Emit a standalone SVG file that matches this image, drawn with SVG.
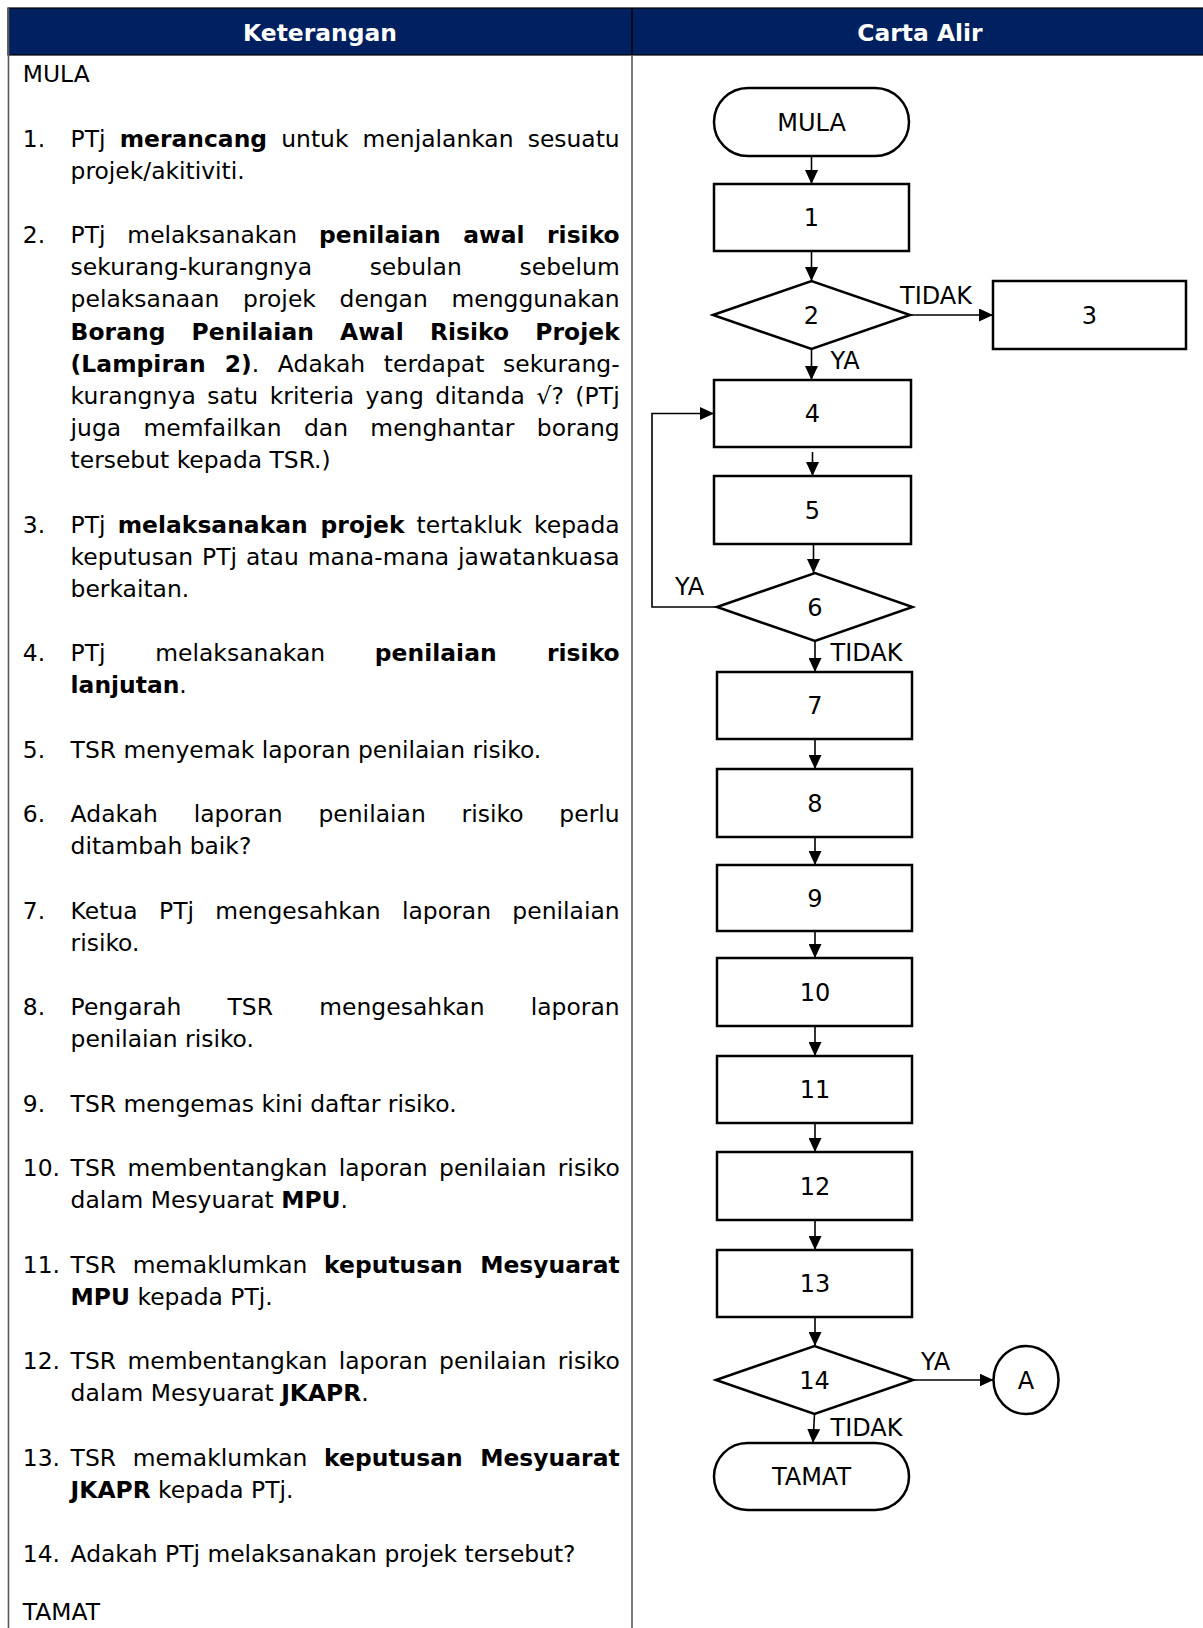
<svg xmlns="http://www.w3.org/2000/svg" width="1203" height="1628" viewBox="0 0 1203 1628">
<defs>
<style>
.t{font-family:"DejaVu Sans",sans-serif;font-size:23.4px;fill:#000}
.b{font-weight:bold}
.h{font-family:"DejaVu Sans",sans-serif;font-size:23.4px;font-weight:bold;fill:#fff;text-anchor:middle}
.n{fill:#fff;stroke:#000;stroke-width:2.5}
.lb{font-family:"DejaVu Sans",sans-serif;font-size:24px;text-anchor:middle;fill:#000}
.cl{font-family:"DejaVu Sans",sans-serif;font-size:24px;fill:#000}
.c{fill:none;stroke:#000;stroke-width:1.6;marker-end:url(#ah)}
.grid{stroke:#5a5a5a;stroke-width:1.6}
</style>
<marker id="ah" markerUnits="userSpaceOnUse" markerWidth="15" markerHeight="13" refX="14" refY="6.5" orient="auto">
<path d="M0,0 L14,6.5 L0,13 z" fill="#000"/>
</marker>
</defs>
<rect width="1203" height="1628" fill="#fff"/>
<g id="table">
<rect x="8" y="8" width="1200" height="47" fill="#002060" stroke="#000" stroke-width="1.2"/>
<line class="grid" x1="8.5" y1="8" x2="8.5" y2="1628"/>
<line x1="632" y1="8" x2="632" y2="55" stroke="#000" stroke-width="1.5"/>
<line class="grid" x1="632" y1="55" x2="632" y2="1628"/>
<text class="h" x="320" y="40.5">Keterangan</text>
<text class="h" x="920" y="40.5">Carta Alir</text>
</g>
<g id="keterangan">
<text class="t" x="22.8" y="82.2">MULA</text>
<text class="t" x="22.8" y="146.5">1.</text>
<text class="t" x="70.6" y="146.5" word-spacing="6.7" textLength="549.1" lengthAdjust="spacing">PTj <tspan class="b">merancang</tspan> untuk menjalankan sesuatu</text>
<text class="t" x="70.6" y="178.7">projek/akitiviti.</text>
<text class="t" x="22.8" y="243.1">2.</text>
<text class="t" x="70.6" y="243.1" word-spacing="14.3" textLength="549.1" lengthAdjust="spacing">PTj melaksanakan <tspan class="b">penilaian awal risiko</tspan></text>
<text class="t" x="70.6" y="275.2" word-spacing="50.1" textLength="549.1" lengthAdjust="spacing">sekurang-kurangnya sebulan sebelum</text>
<text class="t" x="70.6" y="307.4" word-spacing="16.2" textLength="549.1" lengthAdjust="spacing">pelaksanaan projek dengan menggunakan</text>
<text class="t b" x="70.6" y="339.6" word-spacing="18" textLength="549.1" lengthAdjust="spacing">Borang Penilaian Awal Risiko Projek</text>
<text class="t" x="70.6" y="371.7" word-spacing="11" textLength="549.1" lengthAdjust="spacing"><tspan class="b">(Lampiran 2)</tspan>. Adakah terdapat sekurang-</text>
<text class="t" x="70.6" y="403.9" word-spacing="3.9" textLength="549.1" lengthAdjust="spacing">kurangnya satu kriteria yang ditanda √? (PTj</text>
<text class="t" x="70.6" y="436.1" word-spacing="14.9" textLength="549.1" lengthAdjust="spacing">juga memfailkan dan menghantar borang</text>
<text class="t" x="70.6" y="468.2">tersebut kepada TSR.)</text>
<text class="t" x="22.8" y="532.6">3.</text>
<text class="t" x="70.6" y="532.6" word-spacing="4.6" textLength="549.1" lengthAdjust="spacing">PTj <tspan class="b">melaksanakan projek</tspan> tertakluk kepada</text>
<text class="t" x="70.6" y="564.8" word-spacing="1.4" textLength="549.1" lengthAdjust="spacing">keputusan PTj atau mana-mana jawatankuasa</text>
<text class="t" x="70.6" y="596.9">berkaitan.</text>
<text class="t" x="22.8" y="661.3">4.</text>
<text class="t" x="70.6" y="661.3" word-spacing="42.1" textLength="549.1" lengthAdjust="spacing">PTj melaksanakan <tspan class="b">penilaian risiko</tspan></text>
<text class="t" x="70.6" y="693.4"><tspan class="b">lanjutan</tspan>.</text>
<text class="t" x="22.8" y="757.8">5.</text>
<text class="t" x="70.6" y="757.8">TSR menyemak laporan penilaian risiko.</text>
<text class="t" x="22.8" y="822.1">6.</text>
<text class="t" x="70.6" y="822.1" word-spacing="28.2" textLength="549.1" lengthAdjust="spacing">Adakah laporan penilaian risiko perlu</text>
<text class="t" x="70.6" y="854.3">ditambah baik?</text>
<text class="t" x="22.8" y="918.6">7.</text>
<text class="t" x="70.6" y="918.6" word-spacing="13.8" textLength="549.1" lengthAdjust="spacing">Ketua PTj mengesahkan laporan penilaian</text>
<text class="t" x="70.6" y="950.8">risiko.</text>
<text class="t" x="22.8" y="1015.1">8.</text>
<text class="t" x="70.6" y="1015.1" word-spacing="38.6" textLength="549.1" lengthAdjust="spacing">Pengarah TSR mengesahkan laporan</text>
<text class="t" x="70.6" y="1047.3">penilaian risiko.</text>
<text class="t" x="22.8" y="1111.6">9.</text>
<text class="t" x="70.6" y="1111.6">TSR mengemas kini daftar risiko.</text>
<text class="t" x="22.8" y="1176">10.</text>
<text class="t" x="70.6" y="1176" word-spacing="3.85" textLength="549.1" lengthAdjust="spacing">TSR membentangkan laporan penilaian risiko</text>
<text class="t" x="70.6" y="1208.1">dalam Mesyuarat <tspan class="b">MPU</tspan>.</text>
<text class="t" x="22.8" y="1272.5">11.</text>
<text class="t" x="70.6" y="1272.5" word-spacing="9.2" textLength="549.1" lengthAdjust="spacing">TSR memaklumkan <tspan class="b">keputusan Mesyuarat</tspan></text>
<text class="t" x="70.6" y="1304.6"><tspan class="b">MPU</tspan> kepada PTj.</text>
<text class="t" x="22.8" y="1369">12.</text>
<text class="t" x="70.6" y="1369" word-spacing="3.85" textLength="549.1" lengthAdjust="spacing">TSR membentangkan laporan penilaian risiko</text>
<text class="t" x="70.6" y="1401.2">dalam Mesyuarat <tspan class="b">JKAPR</tspan>.</text>
<text class="t" x="22.8" y="1465.5">13.</text>
<text class="t" x="70.6" y="1465.5" word-spacing="9.2" textLength="549.1" lengthAdjust="spacing">TSR memaklumkan <tspan class="b">keputusan Mesyuarat</tspan></text>
<text class="t" x="70.6" y="1497.7"><tspan class="b">JKAPR</tspan> kepada PTj.</text>
<text class="t" x="22.8" y="1562">14.</text>
<text class="t" x="70.6" y="1562">Adakah PTj melaksanakan projek tersebut?</text>
<text class="t" x="22.8" y="1620">TAMAT</text>
</g>
<g id="connectors">
<path class="c" d="M811.5,156 V184"/>
<path class="c" d="M811.5,251 V281"/>
<path class="c" d="M910,315 H993"/>
<path class="c" d="M811.5,349 V380"/>
<path class="c" d="M812.5,452 V476"/>
<path class="c" d="M813.5,544 V573"/>
<path class="c" d="M717,607 H652 V413.5 H714"/>
<path class="c" d="M815,641 V672"/>
<path class="c" d="M815,739 V769"/>
<path class="c" d="M815,837 V865"/>
<path class="c" d="M815,931 V958"/>
<path class="c" d="M815,1026 V1056"/>
<path class="c" d="M815,1123 V1152"/>
<path class="c" d="M815,1220 V1250"/>
<path class="c" d="M815,1317 V1346"/>
<path class="c" d="M913,1380 H993.5"/>
<path class="c" d="M814.5,1414 L813,1443"/>
<text class="cl" x="900" y="303.5">TIDAK</text>
<text class="cl" x="830.5" y="369">YA</text>
<text class="cl" x="675" y="595">YA</text>
<text class="cl" x="830.5" y="661">TIDAK</text>
<text class="cl" x="921" y="1370">YA</text>
<text class="cl" x="830.5" y="1436">TIDAK</text>
</g>
<g id="n-mula"><rect class="n" x="714" y="88" width="195" height="68" rx="34"/><text class="lb" x="811.5" y="130.5">MULA</text></g>
<g id="n1"><rect class="n" x="714" y="184" width="195" height="67"/><text class="lb" x="811.5" y="226">1</text></g>
<g id="n2"><polygon class="n" points="713,315 811.5,281 910,315 811.5,349"/><text class="lb" x="811.5" y="324">2</text></g>
<g id="n3"><rect class="n" x="993" y="281" width="193" height="68"/><text class="lb" x="1089.5" y="324">3</text></g>
<g id="n4"><rect class="n" x="714" y="380" width="197" height="67"/><text class="lb" x="812.5" y="422">4</text></g>
<g id="n5"><rect class="n" x="714" y="476" width="197" height="68"/><text class="lb" x="812.5" y="519">5</text></g>
<g id="n6"><polygon class="n" points="717,607 815,573 912.5,607 815,641"/><text class="lb" x="815" y="616">6</text></g>
<g id="n7"><rect class="n" x="717" y="672" width="195" height="67"/><text class="lb" x="815" y="714">7</text></g>
<g id="n8"><rect class="n" x="717" y="769" width="195" height="68"/><text class="lb" x="815" y="812">8</text></g>
<g id="n9"><rect class="n" x="717" y="865" width="195" height="66"/><text class="lb" x="815" y="907">9</text></g>
<g id="n10"><rect class="n" x="717" y="958" width="195" height="68"/><text class="lb" x="815" y="1001">10</text></g>
<g id="n11"><rect class="n" x="717" y="1056" width="195" height="67"/><text class="lb" x="815" y="1098">11</text></g>
<g id="n12"><rect class="n" x="717" y="1152" width="195" height="68"/><text class="lb" x="815" y="1195">12</text></g>
<g id="n13"><rect class="n" x="717" y="1250" width="195" height="67"/><text class="lb" x="815" y="1292">13</text></g>
<g id="n14"><polygon class="n" points="716,1380 814.5,1346 913,1380 814.5,1414"/><text class="lb" x="814.5" y="1389">14</text></g>
<g id="n-a"><ellipse class="n" cx="1026" cy="1380" rx="32.5" ry="34"/><text class="lb" x="1026" y="1389">A</text></g>
<g id="n-tamat"><rect class="n" x="714" y="1443" width="195" height="67" rx="33.5"/><text class="lb" x="811.5" y="1485">TAMAT</text></g>
</svg>
